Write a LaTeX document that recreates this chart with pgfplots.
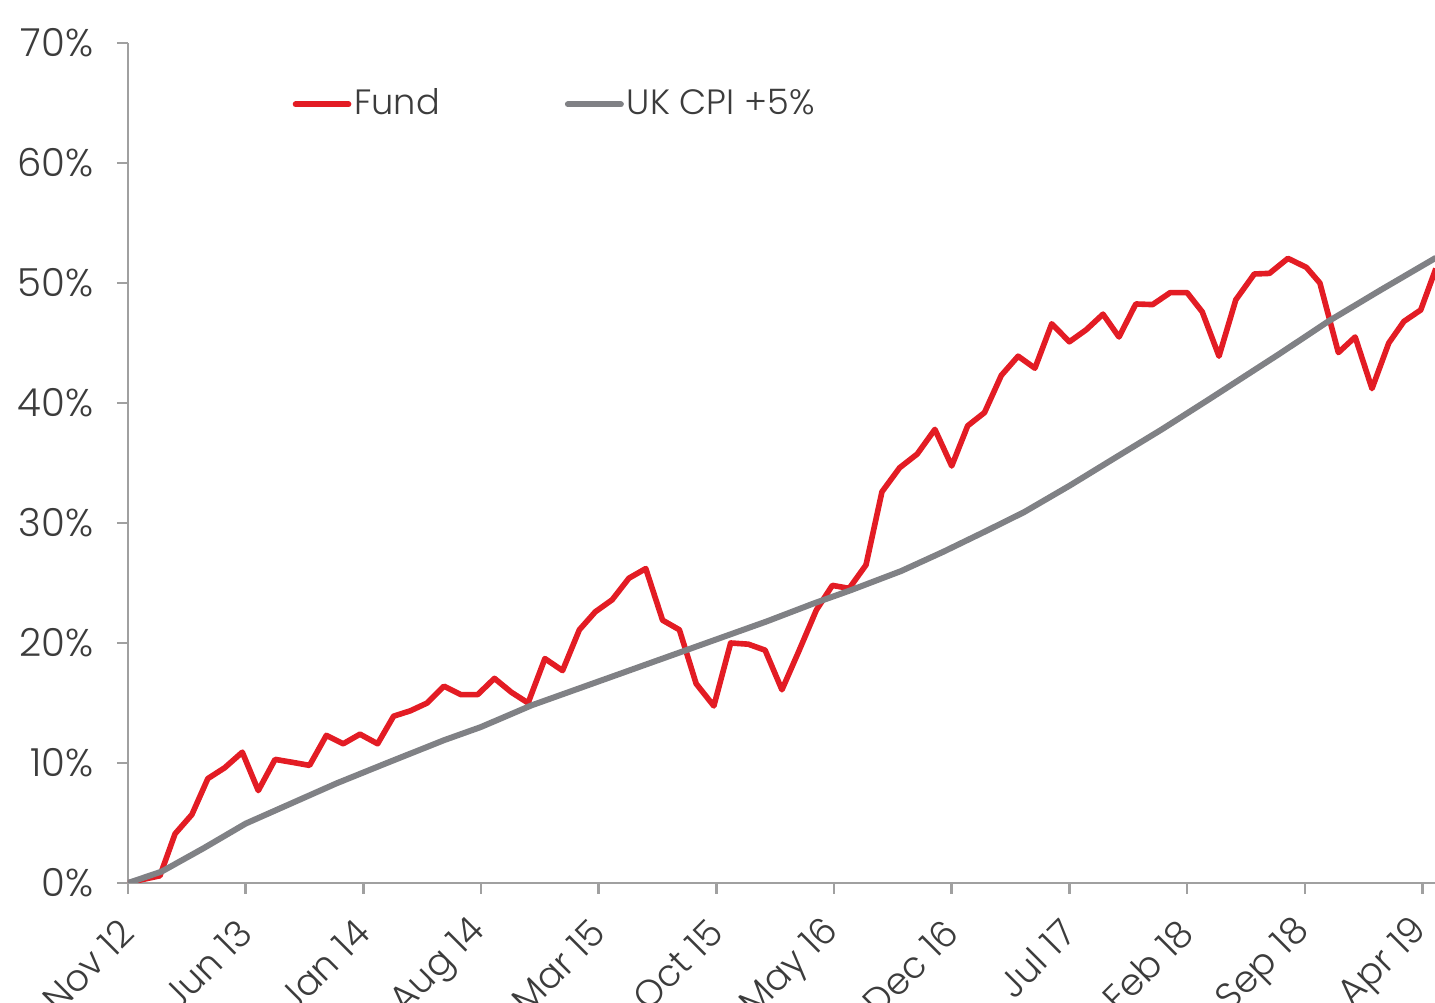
\documentclass[border=0pt]{standalone}
\usepackage{fontspec}
\setmainfont{Poppins Light}
\usepackage{pgfplots}
\pgfplotsset{compat=1.18}
\usepackage{pgfplotstable}
\usetikzlibrary{calc}
\definecolor{fundred}{RGB}{227,28,36}
\definecolor{cpigray}{RGB}{128,129,133}
\definecolor{axgray}{RGB}{160,160,160}
\definecolor{txtgray}{RGB}{60,60,60}

\pgfplotstableread{
m v
0 0
0.9 0.3
1.9 0.6
2.8 4.1
3.8 5.7
4.75 8.7
5.75 9.6
6.8 10.9
7.75 7.7
8.75 10.3
9.8 10.05
10.8 9.8
11.8 12.3
12.8 11.6
13.8 12.4
14.85 11.6
15.8 13.9
16.8 14.35
17.8 15.0
18.8 16.4
19.8 15.7
20.8 15.7
21.8 17.05
22.8 15.9
23.8 15.0
24.8 18.7
25.85 17.7
26.85 21.1
27.8 22.6
28.8 23.6
29.8 25.4
30.8 26.2
31.8 21.9
32.8 21.1
33.8 16.6
34.85 14.75
35.85 20.0
36.9 19.9
37.9 19.4
38.9 16.1
39.9 19.3
40.95 22.75
41.9 24.8
42.9 24.55
43.9 26.5
44.85 32.6
45.9 34.6
46.95 35.75
48.0 37.8
49.0 34.75
49.95 38.1
50.95 39.2
51.95 42.3
52.95 43.9
53.95 42.9
54.95 46.6
56.0 45.1
57.0 46.1
58.0 47.4
58.95 45.5
59.95 48.25
60.95 48.2
62.0 49.2
63.0 49.2
63.9 47.6
64.9 43.9
65.9 48.6
67.0 50.75
67.9 50.8
69.0 52.05
70.1 51.3
70.9 50.0
72.0 44.2
73.0 45.5
74.0 41.2
75.0 45.0
75.9 46.8
76.9 47.75
77.8 51.2
}\funddata

\pgfplotstableread{
m v
0 0
2 0.95
4.5 2.9
7 4.95
9.5 6.5
12.4 8.3
15.4 10.0
18.8 11.9
21 13.0
24 14.8
28 16.8
30 17.8
35 20.3
38 21.8
40.8 23.3
43 24.4
46 26.0
48.5 27.6
51 29.3
53.3 30.9
56 33.1
58.8 35.5
61.5 37.8
64.3 40.3
68.5 44.1
71.4 46.8
74.5 49.4
77.8 52.1
}\cpidata

\begin{document}
\begin{tikzpicture}
\begin{axis}[
  name=ax,
  scale only axis,
  width=13.07cm, height=8.4cm,
  xmin=0, xmax=77.75,
  ymin=0, ymax=70,
  axis x line=bottom, axis y line=left,
  axis line style={-, draw=axgray, line width=0.7pt},
  xtick={0,7,...,77},
  xticklabels={Nov 12,Jun 13,Jan 14,Aug 14,Mar 15,Oct 15,May 16,Dec 16,Jul 17,Feb 18,Sep 18,Apr 19},
  ytick={0,10,...,70},
  yticklabel={\pgfmathprintnumber{\tick}\%},
  /pgf/number format/assume math mode=true,
  tick align=outside,
  major tick length=1.1mm,
  tick style={draw=axgray, line width=0.7pt},
  ticklabel style={text=txtgray},
  xticklabel style={font=\fontsize{10.5}{12}\selectfont, rotate=45, anchor=east, inner sep=0pt},
  xticklabel shift=3.2mm,
  yticklabel style={font=\fontsize{11}{13}\selectfont, inner sep=0pt, xshift=-2.3mm},
  legend columns=2,
  legend style={at={(rel axis cs:0.1255,0.927)}, anchor=west, draw=none, fill=none,
    inner sep=0pt, font=\fontsize{10}{12}\selectfont, text=txtgray,
    /tikz/every even column/.append style={column sep=1.22cm},
    nodes={inner sep=0.3mm}},
  legend image code/.code={\draw[#1, line cap=round] (0cm,0cm) -- (0.53cm,0cm);},
  clip=true,
]
\addplot[draw=fundred, line width=1.6pt, line join=round, no markers] table[x=m, y=v] {\funddata};
\addlegendentry{Fund}
\addplot[draw=cpigray, line width=1.7pt, line join=round, no markers] table[x=m, y=v] {\cpidata};
\addlegendentry{UK CPI +5\%}
\end{axis}
\pgfresetboundingbox
\useasboundingbox ($(ax.south west)+(-1.28cm,-1.2cm)$) rectangle ($(ax.north east)+(0,0.43cm)$);
\end{tikzpicture}
\end{document}
